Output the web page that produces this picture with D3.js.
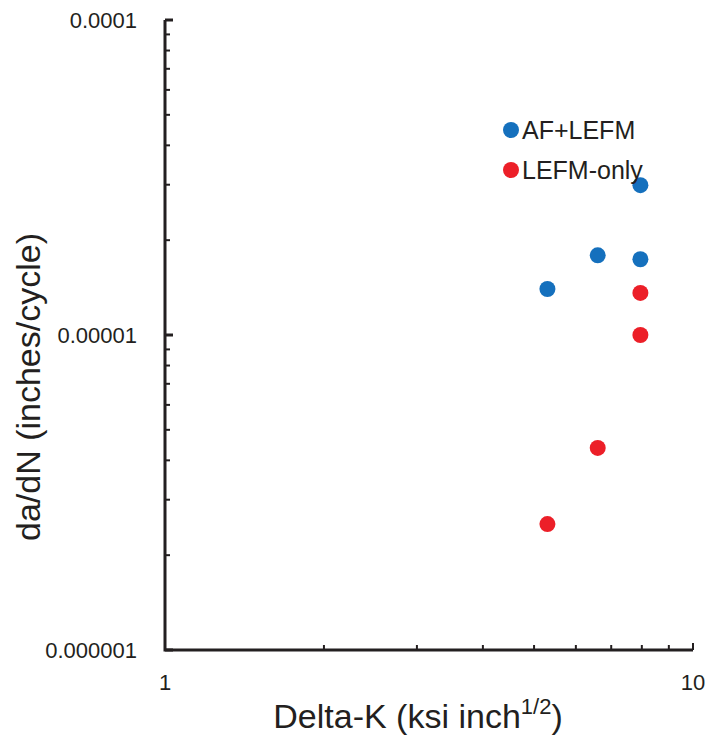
<!DOCTYPE html>
<html>
<head>
<meta charset="utf-8">
<script src="https://cdn.jsdelivr.net/npm/d3@7"></script>
<style>
  body { margin: 0; background: #fff; }
  svg { display: block; font-family: Arial, "Liberation Sans", sans-serif; }
</style>
</head>
<body>
<svg id="chart" width="708" height="740"></svg>
<script>
// Crack growth rate vs stress intensity range
const seriesNames = ["AF+LEFM", "LEFM-only"];
const seriesColors = ["#1570bd", "#ec1f28"];
const afDeltaK = [5.3, 6.6, 7.95, 7.95];
const afRate = [1.40e-5, 1.79e-5, 2.99e-5, 1.74e-5];
const lefmDeltaK = [7.95, 7.95, 6.6, 5.3];
const lefmRate = [1.36e-5, 1.0e-5, 4.38e-6, 2.51e-6];
const yTickLabels = ["0.0001", "0.00001", "0.000001"];
const yTickValues = [1e-4, 1e-5, 1e-6];
const xTickLabels = ["1", "10"];
const xTickValues = [1, 10];

const svg = d3.select("#chart");
const plotLeft = 165, plotRight = 693, plotTop = 20, plotBottom = 650;

const x = d3.scaleLog().domain([1, 10]).range([plotLeft, plotRight]);
const y = d3.scaleLog().domain([1e-6, 1e-4]).range([plotBottom, plotTop]);

const axisColor = "#231f20";

// minor ticks on x (2..9)
const xMinor = d3.range(2, 10);
svg.append("g").selectAll("line").data(xMinor).join("line")
  .attr("x1", d => x(d)).attr("x2", d => x(d))
  .attr("y1", plotBottom).attr("y2", plotBottom - 5)
  .attr("stroke", axisColor).attr("stroke-width", 2);
svg.append("line").attr("x1", x(10)).attr("x2", x(10))
  .attr("y1", plotBottom).attr("y2", plotBottom - 7)
  .attr("stroke", axisColor).attr("stroke-width", 2);

// minor ticks on y
const yMinor = [];
[1e-6, 1e-5].forEach(b => { for (let k = 2; k <= 9; k++) yMinor.push(b * k); });
svg.append("g").selectAll("line").data(yMinor).join("line")
  .attr("x1", plotLeft).attr("x2", plotLeft + 5)
  .attr("y1", d => y(d)).attr("y2", d => y(d))
  .attr("stroke", axisColor).attr("stroke-width", 2);
svg.append("g").selectAll("line").data(yTickValues).join("line")
  .attr("x1", plotLeft).attr("x2", plotLeft + 8)
  .attr("y1", d => y(d)).attr("y2", d => y(d))
  .attr("stroke", axisColor).attr("stroke-width", 3);

// axis lines
svg.append("path")
  .attr("d", `M${plotLeft},${plotTop} L${plotLeft},${plotBottom} L${plotRight},${plotBottom}`)
  .attr("fill", "none").attr("stroke", axisColor).attr("stroke-width", 3);

// tick labels
svg.append("g").selectAll("text").data(yTickValues).join("text")
  .attr("x", 137).attr("y", d => y(d)).attr("dy", "0.35em")
  .attr("text-anchor", "end").attr("font-size", 22).attr("fill", "#231f20")
  .text((d, i) => yTickLabels[i]);
svg.append("g").selectAll("text").data(xTickValues).join("text")
  .attr("x", d => x(d)).attr("y", 690)
  .attr("text-anchor", "middle").attr("font-size", 22).attr("fill", "#231f20")
  .text((d, i) => xTickLabels[i]);

// axis titles
const xt = svg.append("text").attr("x", 418).attr("y", 728)
  .attr("text-anchor", "middle").attr("font-size", 34).attr("fill", "#231f20");
xt.append("tspan").text("Delta-K (ksi inch");
xt.append("tspan").attr("font-size", 22).attr("dy", -14).text("1/2");
xt.append("tspan").attr("dy", 14).text(")");

svg.append("text")
  .attr("transform", `translate(40,387) rotate(-90)`)
  .attr("text-anchor", "middle").attr("font-size", 34).attr("fill", "#231f20")
  .text("da/dN (inches/cycle)");

// data points
const series = [
  { k: afDeltaK, r: afRate, c: seriesColors[0] },
  { k: lefmDeltaK, r: lefmRate, c: seriesColors[1] }
];
series.forEach(s => {
  svg.append("g").selectAll("circle").data(s.k.map((k, i) => [k, s.r[i]])).join("circle")
    .attr("cx", d => x(d[0])).attr("cy", d => y(d[1])).attr("r", 8)
    .attr("fill", s.c);
});

// legend
const lg = svg.append("g").attr("transform", "translate(511,130)");
seriesNames.forEach((n, i) => {
  const g = lg.append("g").attr("transform", `translate(0,${i * 40})`);
  g.append("circle").attr("r", 8).attr("fill", seriesColors[i]);
  g.append("text").attr("x", 11).attr("dy", "0.35em")
    .attr("font-size", 25).attr("fill", "#231f20").text(n);
});
</script>
</body>
</html>
